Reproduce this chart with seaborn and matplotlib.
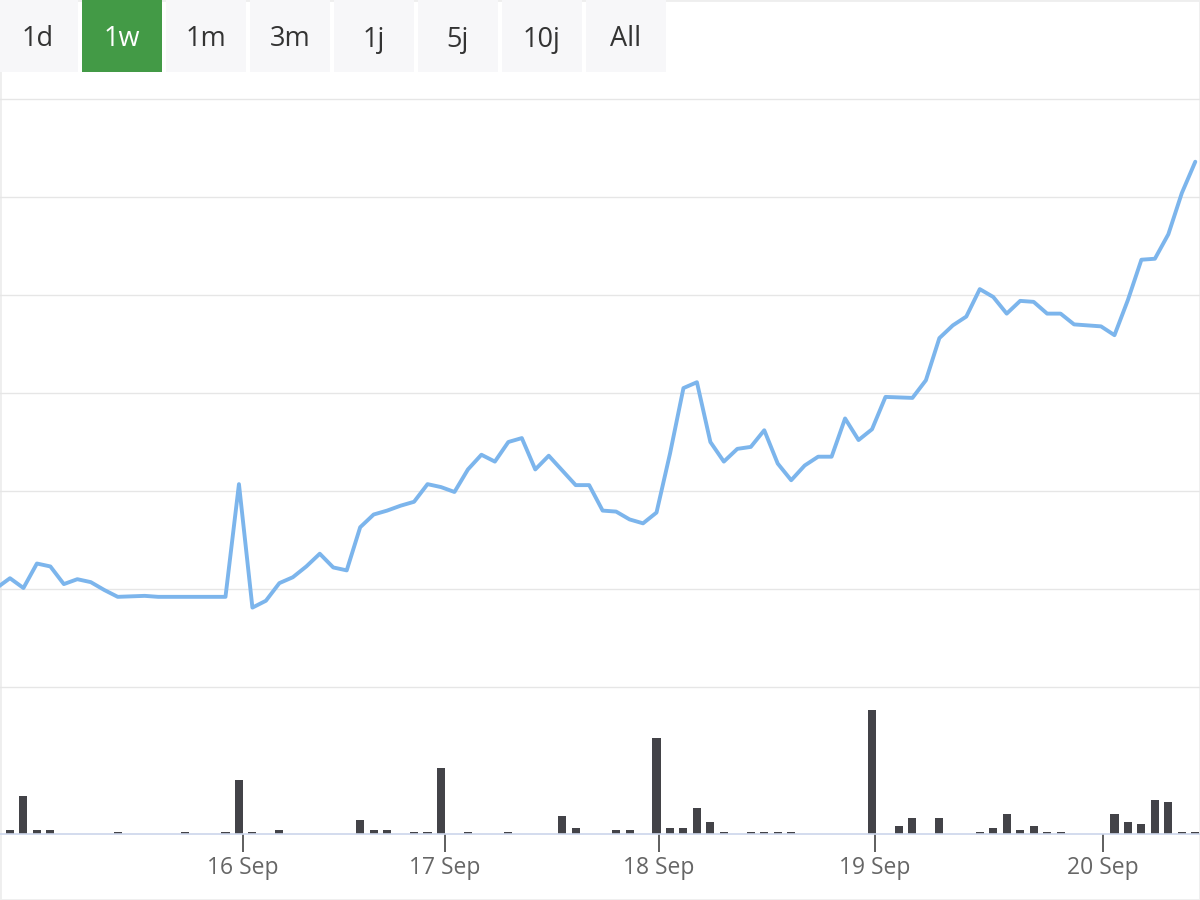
import matplotlib
matplotlib.use('Agg')
import matplotlib.pyplot as plt
import seaborn as sns
import numpy as np
import pandas as pd
from matplotlib.patches import Rectangle

# ---------------- data ----------------
price = [1.01, 1.11, 1.01, 1.26, 1.23, 1.05, 1.10, 1.07, 0.99, 0.92,
         0.925, 0.93, 0.92, 0.92, 0.92, 0.92, 0.92, 0.92, 2.07, 0.81,
         0.88, 1.06, 1.12, 1.23, 1.36, 1.22, 1.19, 1.63, 1.76, 1.80,
         1.85, 1.89, 2.07, 2.04, 1.99, 2.22, 2.37, 2.30, 2.50, 2.54,
         2.22, 2.36, 2.21, 2.06, 2.06, 1.80, 1.79, 1.71, 1.67, 1.78,
         2.38, 3.05, 3.11, 2.50, 2.30, 2.43, 2.45, 2.62, 2.28, 2.11,
         2.26, 2.35, 2.35, 2.74, 2.52, 2.63, 2.96, 2.955, 2.95, 3.13,
         3.56, 3.69, 3.78, 4.06, 3.98, 3.81, 3.94, 3.93, 3.81, 3.81,
         3.70, 3.69, 3.68, 3.59, 3.95, 4.36, 4.37, 4.62, 5.04, 5.36]

volume = [0, 4, 38, 4, 4, 0, 0, 0, 0, 2,
          0, 0, 0, 0, 2, 0, 0, 2, 54, 2,
          0, 4, 0, 0, 0, 0, 0, 14, 4, 4,
          0, 2, 2, 66, 0, 2, 0, 0, 2, 0,
          0, 0, 18, 6, 0, 0, 4, 4, 0, 96,
          6, 6, 26, 12, 2, 0, 2, 2, 2, 2,
          0, 0, 0, 0, 0, 124, 0, 8, 16, 0,
          16, 0, 0, 2, 6, 20, 4, 8, 2, 2,
          0, 0, 0, 20, 12, 10, 34, 32, 2, 2]

tick_labels = ['16 Sep', '17 Sep', '18 Sep', '19 Sep', '20 Sep']
tick_positions = [18.27, 33.27, 49.18, 65.2, 82.13]

buttons = ['1d', '1w', '1m', '3m', '1j', '5j', '10j', 'All']
selected = '1w'

# ---------------- style ----------------
sns.set_theme(style='white')
plt.rcParams['font.family'] = ['Open Sans', 'DejaVu Sans']

W, H = 1200, 900
fig = plt.figure(figsize=(12, 9), dpi=100)
fig.patch.set_facecolor('white')


def fx(px):
    return px / W


def fy(py):
    return 1 - py / H


# light outer border
fig.add_artist(Rectangle((0, 0), 1, 1, transform=fig.transFigure, fill=False,
                         edgecolor='#eeeeee', linewidth=2, zorder=0))

ax_p = fig.add_axes([0, fy(687), 1, (687 - 99) / H])
ax_v = fig.add_axes([0, fy(834), 1, (834 - 687) / H])

df = pd.DataFrame({'idx': np.arange(len(price)), 'price': price, 'volume': volume})

sns.lineplot(data=df, x='idx', y='price', ax=ax_p, color='#7cb5ec', linewidth=2.8,
             solid_joinstyle='round', solid_capstyle='round', zorder=3)
sns.barplot(data=df, x='idx', y='volume', ax=ax_v, color='#434348', saturation=1,
            width=0.6, native_scale=True, errorbar=None, linewidth=0)

xlim = (0.26, 89.35)

# price pane
ax_p.set_xlim(*xlim)
ax_p.set_ylim(0, 6)
ax_p.set_facecolor('none')
for s in ax_p.spines.values():
    s.set_visible(False)
ax_p.set_xticks([])
ax_p.set_yticks([])
ax_p.set_xlabel('')
ax_p.set_ylabel('')
for g in range(0, 7):
    ax_p.axhline(g, color='#e6e6e6', linewidth=1.0, clip_on=False, zorder=0)

# volume pane
ax_v.set_xlim(*xlim)
ax_v.set_ylim(0, 147)
ax_v.set_facecolor('none')
for name, s in ax_v.spines.items():
    s.set_visible(name == 'bottom')
ax_v.spines['bottom'].set_color('#ccd6eb')
ax_v.spines['bottom'].set_linewidth(1.2)
ax_v.set_yticks([])
ax_v.set_xlabel('')
ax_v.set_ylabel('')
ax_v.set_xticks(tick_positions)
ax_v.set_xticklabels(tick_labels)
ax_v.tick_params(axis='x', direction='out', length=13, width=1.1, color='#333333',
                 labelcolor='#666666', labelsize=16.5, pad=2.5, bottom=True)

# range selector buttons
for k, lab in enumerate(buttons):
    x0 = 84 * k - 2
    sel = lab == selected
    fig.add_artist(Rectangle((fx(x0), fy(72)), 80 / W, 72 / H, transform=fig.transFigure,
                             facecolor='#439a46' if sel else '#f7f7f9',
                             edgecolor='none', zorder=1))
    fig.text(fx(x0 + 40), fy(46.5), lab, ha='center', va='baseline', fontsize=19.5,
             color='white' if sel else '#333333', zorder=2)

fig.savefig('out.png', dpi=100)
